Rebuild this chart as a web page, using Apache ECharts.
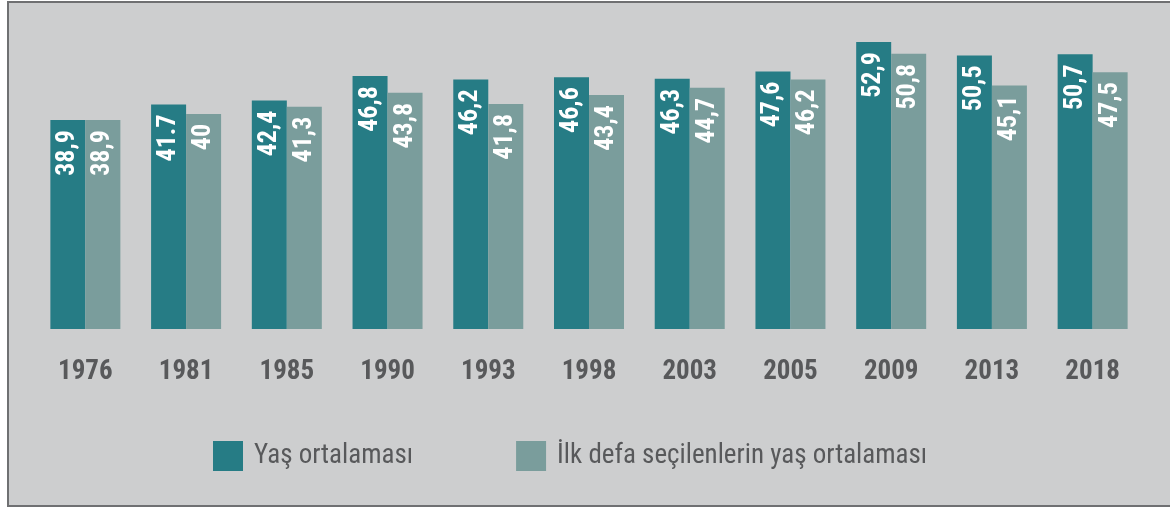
<!DOCTYPE html>
<html>
<head>
<meta charset="utf-8">
<script src="https://cdn.jsdelivr.net/npm/echarts@6/dist/echarts.min.js"></script>
<style>
html,body{margin:0;padding:0;background:#fff;}
#main{width:1170px;height:509px;}
</style>
</head>
<body>
<div id="main"></div>
<script>
var years = ['1976','1981','1985','1990','1993','1998','2003','2005','2009','2013','2018'];
var yasOrt = [38.9, 41.7, 42.4, 46.8, 46.2, 46.6, 46.3, 47.6, 52.9, 50.5, 50.7];
var ilkDefa = [38.9, 40, 41.3, 43.8, 41.8, 43.4, 44.7, 46.2, 50.8, 45.1, 47.5];
// etiketler resimdeki gibi (bazilari nokta ile)
var yasLbl = ['38,9','41.7','42,4','46,8','46,2','46,6','46,3','47,6','52,9','50,5','50,7'];
var ilkLbl = ['38,9','40','41,3','43,8','41,8','43,4','44,7','46,2','50,8','45,1','47,5'];
var seriesNames = ['Yaş ortalaması', 'İlk defa seçilenlerin yaş ortalaması'];

var fontCond = "'Roboto Condensed','Liberation Sans Narrow','DejaVu Sans Condensed',Roboto,sans-serif";

function barLabel(list){
	return {
		show: true,
		position: 'insideTop',
		rotate: 90,
		align: 'right',
		verticalAlign: 'middle',
		distance: 10,
		color: '#fff',
		fontFamily: fontCond,
		fontWeight: 'bold',
		fontSize: 26,
		formatter: function(p){ return list[p.dataIndex]; }
	};
}

var myChart = echarts.init(document.getElementById('main'));
var option = {
	backgroundColor: '#fff',
	animation: false,
	graphic: [{
		type: 'rect',
		z: -10,
		shape: {x: 8, y: 2, width: 1200, height: 504},
		style: {fill: '#cdcecf', stroke: '#6f7072', lineWidth: 2}
	}],
	grid: {left: 35, right: 27, top: 2.5, bottom: 180},
	legend: {
		left: 213,
		top: 441,
		padding: 0,
		itemWidth: 30,
		itemHeight: 30,
		itemGap: 103,
		icon: 'rect',
		textStyle: {fontFamily: fontCond, fontSize: 27, color: '#58595b', padding: [0,0,0,6]},
		data: seriesNames
	},
	xAxis: {
		type: 'category',
		data: years,
		axisLine: {show: false},
		axisTick: {show: false},
		axisLabel: {
			margin: 30,
			fontFamily: fontCond,
			fontWeight: 'bold',
			fontSize: 27,
			color: '#58595b'
		}
	},
	yAxis: {
		type: 'value',
		min: 1.4,
		max: 60,
		show: false,
		splitLine: {show: false}
	},
	series: [
		{
			name: seriesNames[0],
			type: 'bar',
			data: yasOrt,
			barWidth: 35,
			barGap: 0,
			itemStyle: {color: '#267c85'},
			label: barLabel(yasLbl)
		},
		{
			name: seriesNames[1],
			type: 'bar',
			data: ilkDefa,
			barWidth: 35,
			itemStyle: {color: '#7a9d9c'},
			label: barLabel(ilkLbl)
		}
	]
};
myChart.setOption(option);
</script>
</body>
</html>
